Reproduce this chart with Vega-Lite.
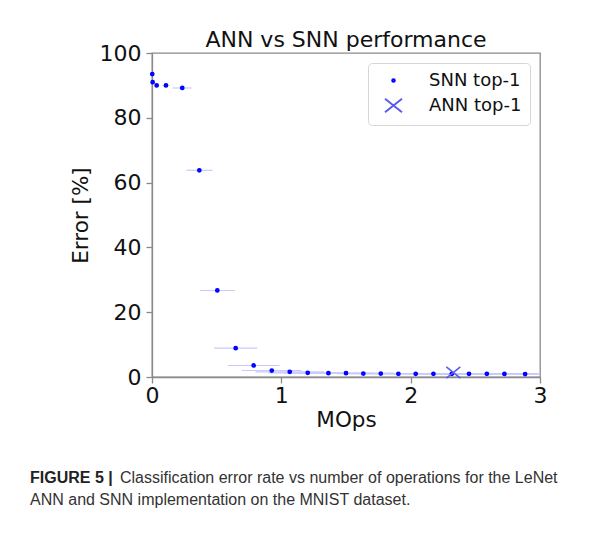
{
  "$schema": "https://vega.github.io/schema/vega-lite/v6.json",
  "autosize": {"type": "pad"},
  "padding": {"left": 30, "top": 28, "right": 5, "bottom": 5},
  "background": "white",
  "bounds": "flush",
  "spacing": 106,
  "config": {
    "font": "DejaVu Sans",
    "view": {"stroke": null},
    "legend": {
      "title": null,
      "orient": "top-right",
      "offset": 10,
      "padding": 8,
      "fillColor": "white",
      "strokeColor": "#d6d6d6",
      "cornerRadius": 4,
      "labelFontSize": 18,
      "labelFont": "DejaVu Sans",
      "labelColor": "#111111",
      "symbolSize": 289,
      "symbolStrokeWidth": 2,
      "symbolOffset": 8,
      "labelOffset": 26,
      "rowPadding": 4
    }
  },
  "datasets": {
    "snn": [
      {"series": "SNN top-1", "mops": 0.002, "err": 93.5, "xlo": 0.0, "xhi": 0.004},
      {"series": "SNN top-1", "mops": 0.005, "err": 91.0, "xlo": 0.0, "xhi": 0.01},
      {"series": "SNN top-1", "mops": 0.036, "err": 90.0, "xlo": 0.026, "xhi": 0.046},
      {"series": "SNN top-1", "mops": 0.108, "err": 90.0, "xlo": 0.08, "xhi": 0.136},
      {"series": "SNN top-1", "mops": 0.234, "err": 89.2, "xlo": 0.159, "xhi": 0.306},
      {"series": "SNN top-1", "mops": 0.366, "err": 63.8, "xlo": 0.267, "xhi": 0.468},
      {"series": "SNN top-1", "mops": 0.505, "err": 26.7, "xlo": 0.371, "xhi": 0.642},
      {"series": "SNN top-1", "mops": 0.647, "err": 8.9, "xlo": 0.479, "xhi": 0.814},
      {"series": "SNN top-1", "mops": 0.786, "err": 3.55, "xlo": 0.585, "xhi": 0.985},
      {"series": "SNN top-1", "mops": 0.926, "err": 2.0, "xlo": 0.693, "xhi": 1.158},
      {"series": "SNN top-1", "mops": 1.065, "err": 1.6, "xlo": 0.80, "xhi": 1.33},
      {"series": "SNN top-1", "mops": 1.204, "err": 1.3, "xlo": 0.90, "xhi": 1.50},
      {"series": "SNN top-1", "mops": 1.364, "err": 1.17, "xlo": 1.02, "xhi": 1.70},
      {"series": "SNN top-1", "mops": 1.5, "err": 1.17, "xlo": 1.13, "xhi": 1.87},
      {"series": "SNN top-1", "mops": 1.634, "err": 1.08, "xlo": 1.22, "xhi": 2.04},
      {"series": "SNN top-1", "mops": 1.769, "err": 1.08, "xlo": 1.33, "xhi": 2.21},
      {"series": "SNN top-1", "mops": 1.905, "err": 1.0, "xlo": 1.43, "xhi": 2.38},
      {"series": "SNN top-1", "mops": 2.039, "err": 1.0, "xlo": 1.53, "xhi": 2.55},
      {"series": "SNN top-1", "mops": 2.176, "err": 1.0, "xlo": 1.63, "xhi": 2.72},
      {"series": "SNN top-1", "mops": 2.318, "err": 1.0, "xlo": 1.74, "xhi": 2.90},
      {"series": "SNN top-1", "mops": 2.451, "err": 1.0, "xlo": 1.84, "xhi": 3.06},
      {"series": "SNN top-1", "mops": 2.589, "err": 1.0, "xlo": 1.94, "xhi": 3.24},
      {"series": "SNN top-1", "mops": 2.725, "err": 0.95, "xlo": 2.04, "xhi": 3.41},
      {"series": "SNN top-1", "mops": 2.885, "err": 0.9, "xlo": 2.16, "xhi": 3.61}
    ],
    "ann": [
      {"series": "ANN top-1", "mops": 2.33, "err": 1.4}
    ],
    "caption": [
      {"part": "bold", "line": 1, "text": "FIGURE 5 |"},
      {"part": "reg1", "line": 1, "text": "Classification error rate vs number of operations for the LeNet"},
      {"part": "reg2", "line": 2, "text": "ANN and SNN implementation on the MNIST dataset."}
    ]
  },
  "vconcat": [
    {
      "width": 388,
      "height": 324,
      "view": {"stroke": "#8a8a8a", "strokeWidth": 1.3},
      "title": {
        "text": "ANN vs SNN performance",
        "fontSize": 22,
        "fontWeight": "normal",
        "font": "DejaVu Sans",
        "color": "#111111",
        "anchor": "middle",
        "offset": -10
      },
      "layer": [
        {
          "data": {"name": "snn"},
          "mark": {"type": "rule", "clip": true, "color": "#c9c9ff", "strokeWidth": 1.2},
          "encoding": {
            "x": {
              "field": "xlo", "type": "quantitative",
              "scale": {"domain": [0, 3], "nice": false, "zero": false},
              "axis": {
                "values": [0, 1, 2, 3], "format": "d", "title": "MOps", "grid": false,
                "labelFontSize": 22, "titleFontSize": 21.5, "titleFontWeight": "normal",
                "labelColor": "#111111", "titleColor": "#111111",
                "domainColor": "#8a8a8a", "tickColor": "#8a8a8a", "domainWidth": 1.3, "tickWidth": 1.3,
                "tickSize": 6, "labelPadding": 2, "titlePadding": 3, "labelFlush": false
              }
            },
            "x2": {"field": "xhi"},
            "y": {
              "field": "err", "type": "quantitative",
              "scale": {"domain": [0, 100], "nice": false},
              "axis": {
                "values": [0, 20, 40, 60, 80, 100], "format": "d", "title": "Error [%]", "grid": false,
                "labelFontSize": 22, "titleFontSize": 21.5, "titleFontWeight": "normal",
                "labelColor": "#111111", "titleColor": "#111111",
                "domainColor": "#8a8a8a", "tickColor": "#8a8a8a", "domainWidth": 1.3, "tickWidth": 1.3,
                "tickSize": 6, "labelPadding": 5, "titlePadding": 7, "labelFlush": false
              }
            }
          }
        },
        {
          "data": {"name": "snn"},
          "mark": {"type": "point", "filled": false, "size": 289, "strokeWidth": 2.2, "opacity": 1},
          "encoding": {
            "x": {"field": "mops", "type": "quantitative"},
            "y": {"field": "err", "type": "quantitative"},
            "color": {
              "field": "series", "type": "nominal",
              "scale": {"domain": ["SNN top-1", "ANN top-1"], "range": ["#0000ff", "#5a5af0"]}
            },
            "shape": {
              "field": "series", "type": "nominal",
              "scale": {"domain": ["SNN top-1", "ANN top-1"], "range": ["M-0.15,0A0.15,0.15 0 1 0 0.15,0A0.15,0.15 0 1 0 -0.15,0Z", "M-1,-0.8L1,0.8M-1,0.8L1,-0.8"]}
            }
          }
        },
        {
          "data": {"name": "ann"},
          "mark": {"type": "point", "filled": false, "size": 196, "strokeWidth": 1.6, "opacity": 1},
          "encoding": {
            "x": {"field": "mops", "type": "quantitative"},
            "y": {"field": "err", "type": "quantitative"},
            "color": {"field": "series", "type": "nominal"},
            "shape": {"field": "series", "type": "nominal"}
          }
        }
      ]
    },
    {
      "width": 388,
      "height": 22,
      "data": {"name": "caption"},
      "view": {"stroke": null},
      "layer": [
        {
          "transform": [{"filter": "datum.part === 'bold'"}],
          "mark": {"type": "text", "align": "left", "baseline": "alphabetic", "dx": -122, "font": "Liberation Sans", "fontSize": 16, "fontWeight": "bold", "color": "#222222"},
          "encoding": {
            "x": {"value": 0},
            "y": {"field": "line", "type": "ordinal", "scale": {"type": "point", "padding": 0}, "axis": null},
            "text": {"field": "text"}
          }
        },
        {
          "transform": [{"filter": "datum.part === 'reg1'"}],
          "mark": {"type": "text", "align": "left", "baseline": "alphabetic", "dx": -32, "font": "Liberation Sans", "fontSize": 16, "color": "#333333"},
          "encoding": {
            "x": {"value": 0},
            "y": {"field": "line", "type": "ordinal", "scale": {"type": "point", "padding": 0}, "axis": null},
            "text": {"field": "text"}
          }
        },
        {
          "transform": [{"filter": "datum.part === 'reg2'"}],
          "mark": {"type": "text", "align": "left", "baseline": "alphabetic", "dx": -122, "font": "Liberation Sans", "fontSize": 16, "color": "#333333"},
          "encoding": {
            "x": {"value": 0},
            "y": {"field": "line", "type": "ordinal", "scale": {"type": "point", "padding": 0}, "axis": null},
            "text": {"field": "text"}
          }
        }
      ]
    }
  ]
}
